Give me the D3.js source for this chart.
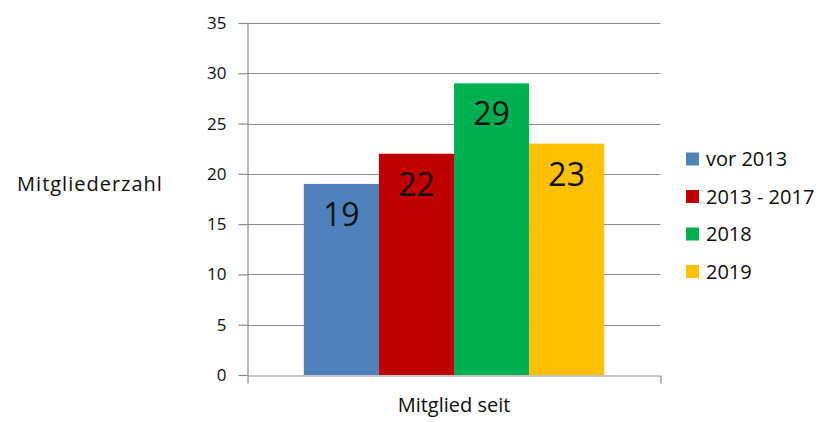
<!DOCTYPE html>
<html>
<head>
<meta charset="utf-8">
<script src="https://cdn.jsdelivr.net/npm/d3@7"></script>
<style>
  body { margin: 0; background: #fff; }
  text { font-family: "Open Sans", sans-serif; }
</style>
</head>
<body>
<div id="chart"></div>
<script>
var categories = ['Mitglied seit'];
var seriesNames = ['vor 2013', '2013 - 2017', '2018', '2019'];
var seriesValues = [19, 22, 29, 23];
var yTicks = [0, 5, 10, 15, 20, 25, 30, 35];
var seriesColors = ['#4F81BD', '#C00000', '#00B050', '#FFC000'];

var width = 821, height = 422;
var plotLeft = 247.5, plotRight = 660.5, plotTop = 23, plotBottom = 375;
var col_grid = '#8a8a8a';
var col_text = '#0d0d0d';

var svg = d3.select('#chart').append('svg')
    .attr('width', width)
    .attr('height', height);

var y = d3.scaleLinear()
    .domain([0, 35])
    .range([plotBottom, plotTop]);

var x0 = d3.scaleBand()
    .domain(categories)
    .range([plotLeft, plotRight]);

var x1 = d3.scaleBand()
    .domain(seriesNames)
    .range([0, x0.bandwidth()])
    .paddingInner(0)
    .paddingOuter(0.75);

// gridlines
svg.append('g')
    .selectAll('line')
    .data(yTicks.filter(function(d) { return d > 0; }))
    .enter().append('line')
    .attr('x1', plotLeft)
    .attr('x2', plotRight)
    .attr('y1', function(d) { return Math.round(y(d)) + 0.5; })
    .attr('y2', function(d) { return Math.round(y(d)) + 0.5; })
    .attr('stroke', col_grid)
    .attr('stroke-width', 1.2);

// y axis
var yAxis = svg.append('g')
    .attr('transform', 'translate(' + plotLeft + ',0)')
    .call(d3.axisLeft(y).tickValues(yTicks).tickSize(9).tickPadding(12).tickSizeOuter(0));
yAxis.select('.domain').attr('stroke', col_grid).attr('stroke-width', 1.2);
yAxis.selectAll('.tick line').attr('stroke', col_grid).attr('stroke-width', 1.2);
yAxis.selectAll('.tick text')
    .style('font-size', '17px')
    .style('font-family', '"Open Sans", sans-serif')
    .attr('fill', col_text);

// bars
var group = svg.append('g')
    .attr('transform', 'translate(' + x0(categories[0]) + ',0)');

group.selectAll('rect')
    .data(seriesValues)
    .enter().append('rect')
    .attr('x', function(d, i) { return x1(seriesNames[i]); })
    .attr('width', x1.bandwidth())
    .attr('y', function(d) { return y(d); })
    .attr('height', function(d) { return y(0) - y(d); })
    .attr('fill', function(d, i) { return seriesColors[i]; });

group.selectAll('text.val')
    .data(seriesValues)
    .enter().append('text')
    .attr('class', 'val')
    .attr('x', function(d, i) { return x1(seriesNames[i]) + x1.bandwidth() / 2; })
    .attr('y', function(d) { return y(d) + 42; })
    .attr('text-anchor', 'middle')
    .style('font-size', '32px')
    .attr('fill', '#111')
    .text(function(d) { return d; });

// x axis
var xAxis = svg.append('g')
    .attr('transform', 'translate(0,' + (Math.round(plotBottom) + 0.5) + ')')
    .call(d3.axisBottom(x0).tickSize(0).tickSizeOuter(8).tickPadding(22));
xAxis.select('.domain').attr('stroke', col_grid).attr('stroke-width', 1.2);
xAxis.selectAll('.tick text')
    .style('font-size', '20px')
    .style('font-family', '"Open Sans", sans-serif')
    .attr('fill', col_text);

// y axis title
svg.append('text')
    .attr('x', 90)
    .attr('y', 191)
    .attr('text-anchor', 'middle')
    .style('font-size', '20px')
    .style('letter-spacing', '1px')
    .attr('fill', col_text)
    .text('Mitgliederzahl');

// legend
var legend = svg.append('g')
    .attr('transform', 'translate(686,159)');

var items = legend.selectAll('g')
    .data(seriesNames)
    .enter().append('g')
    .attr('transform', function(d, i) { return 'translate(0,' + (i * 37.5) + ')'; });

items.append('rect')
    .attr('x', 0)
    .attr('y', -6.5)
    .attr('width', 13)
    .attr('height', 13)
    .attr('fill', function(d, i) { return seriesColors[i]; });

items.append('text')
    .attr('x', 20)
    .attr('y', 7)
    .style('font-size', '20px')
    .attr('fill', col_text)
    .text(function(d) { return d; });
</script>
</body>
</html>
